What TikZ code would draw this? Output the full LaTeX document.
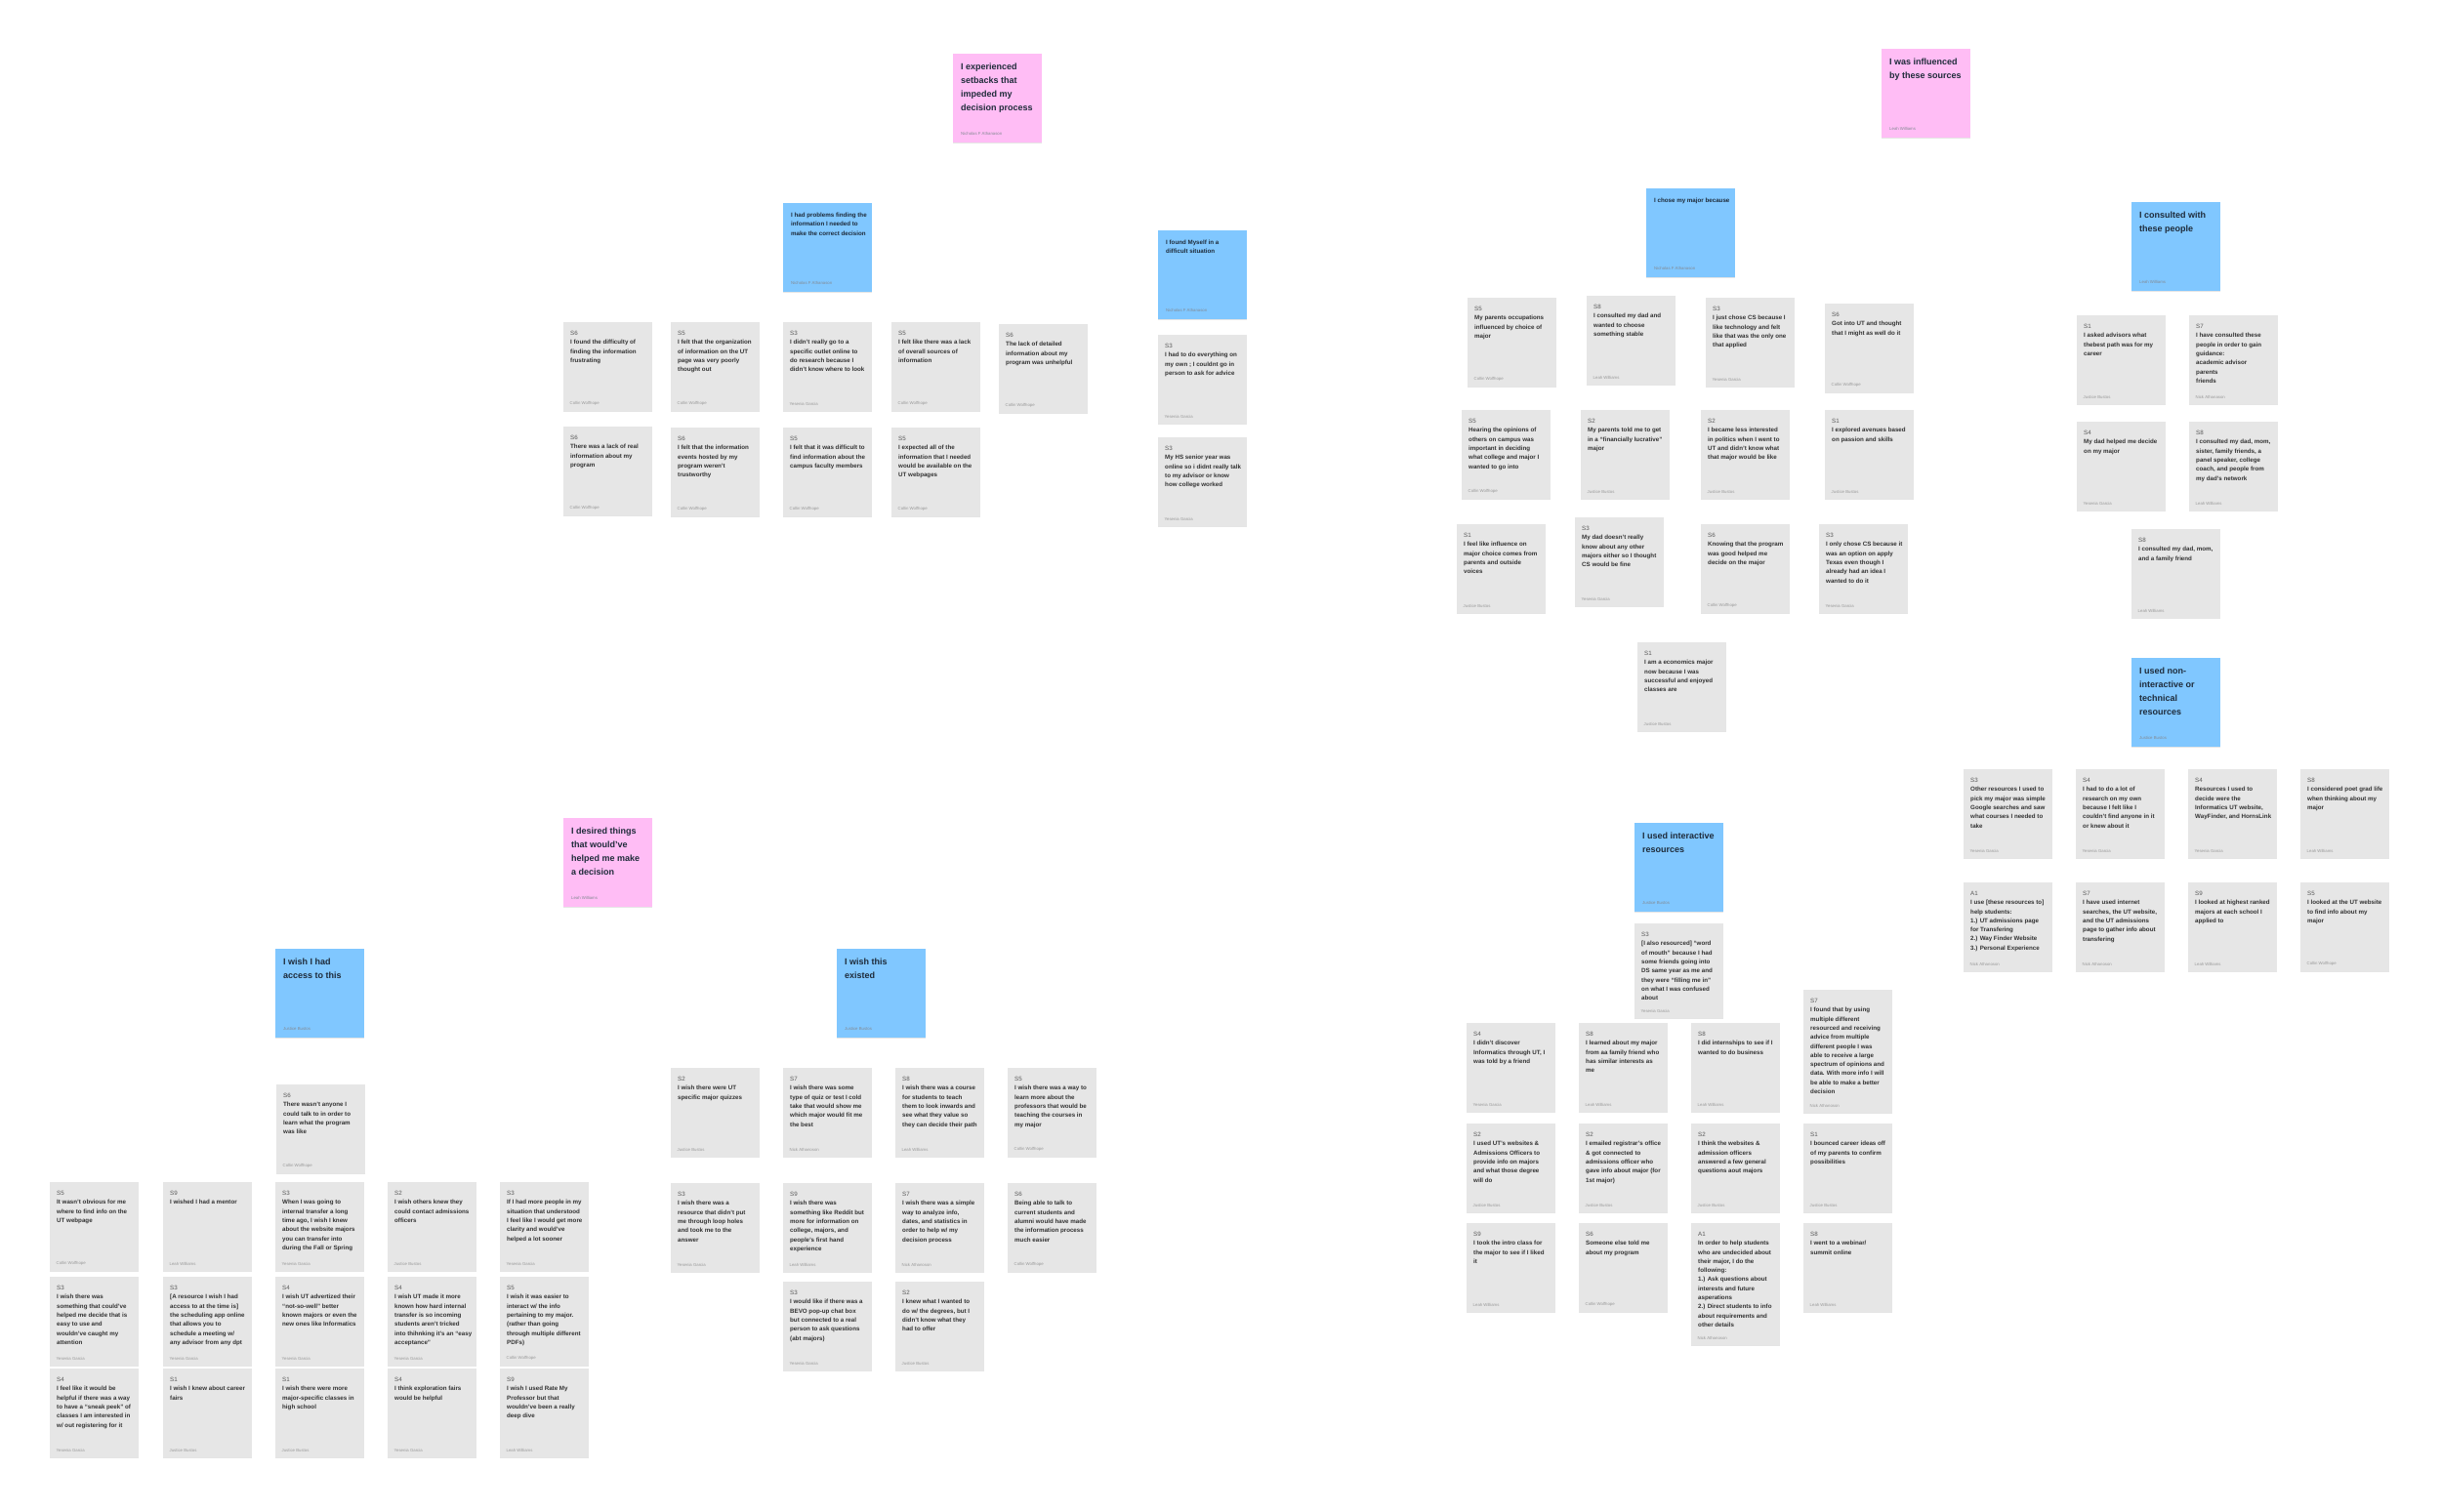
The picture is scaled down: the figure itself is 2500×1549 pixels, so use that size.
\documentclass[tikz,border=0pt]{standalone}
\usepackage{fontspec}
\setmainfont{Liberation Sans}
\usetikzlibrary{shadows}
\definecolor{notegray}{HTML}{E6E6E6}
\definecolor{stickyblue}{HTML}{80C7FF}
\definecolor{stickypink}{HTML}{FFBDF5}
\definecolor{inkgray}{HTML}{333333}
\definecolor{codegray}{HTML}{5A5A5A}
\definecolor{inknavy}{HTML}{1E2B3A}
\tikzset{
	note/.style = {anchor=north west, fill=notegray, minimum width=91pt, inner sep=0pt, drop shadow={shadow xshift=0pt, shadow yshift=-1.2pt, opacity=0.2}},
	notetext/.style = {anchor=north west, inner sep=0pt, align=left, text=inkgray, font=\fontsize{6.2}{9.3}\selectfont\bfseries},
	writer/.style = {anchor=south west, inner sep=0pt, text=black!40, font=\fontsize{4.3}{5}\selectfont},
	cluster/.style = {note, fill=stickyblue, minimum height=91pt},
	theme/.style = {note, fill=stickypink, minimum height=91pt},
	headline/.style = {notetext, text=inknavy, font=\fontsize{9}{13.8}\selectfont\bfseries},
	subline/.style = {notetext, text=inknavy},
	topicby/.style = {writer, text=inknavy!55}
}
\newcommand{\sticky}[6][91]{%
	\node[note, minimum height=#1pt] (#2) at (#3) {};
	\node[notetext] (#2-txt) at ([shift={(7pt,-9pt)}]#2.north west) {{\mdseries\color{codegray}#4}\\{}#5};
	\node[writer] (#2-by) at ([shift={(6.5pt,6pt)}]#2.south west) {#6};
}
\newcommand{\topic}[6]{%
	\node[#1] (#3) at (#4) {};
	\node[#2] (#3-txt) at ([shift={(8pt,-10pt)}]#3.north west) {#5};
	\node[topicby] (#3-by) at ([shift={(8pt,8pt)}]#3.south west) {#6};
}

\begin{document}
\begin{tikzpicture}[x=1pt, y=-1pt]
	\fill[white] (0,0) rectangle (2500,1549);
	\useasboundingbox (0,0) rectangle (2500,1549);

	% setbacks
	\topic{theme}{headline}{setback}{976,55}{I experienced\\ setbacks that\\ impeded my\\ decision process}{Nicholas F Athanason}
	\topic{cluster}{subline}{finding}{802,208}{I had problems finding the\\ information I needed to\\ make the correct decision}{Nicholas F Athanason}
	\sticky{fd1}{577,330}{S6}{I found the difficulty of\\ finding the information\\ frustrating}{Collin Wolfhope}
	\sticky{fd2}{687,330}{S5}{I felt that the organization\\ of information on the UT\\ page was very poorly\\ thought out}{Collin Wolfhope}
	\sticky{fd3}{802,330}{S3}{I didn't really go to a\\ specific outlet online to\\ do research because I\\ didn't know where to look}{Yesenia Garcia}
	\sticky{fd4}{913,330}{S5}{I felt like there was a lack\\ of overall sources of\\ information}{Collin Wolfhope}
	\sticky{fd5}{1023,332}{S6}{The lack of detailed\\ information about my\\ program was unhelpful}{Collin Wolfhope}
	\sticky{fd6}{577,437}{S6}{There was a lack of real\\ information about my\\ program}{Collin Wolfhope}
	\sticky{fd7}{687,438}{S6}{I felt that the information\\ events hosted by my\\ program weren't\\ trustworthy}{Collin Wolfhope}
	\sticky{fd8}{802,438}{S5}{I felt that it was difficult to\\ find information about the\\ campus faculty members}{Collin Wolfhope}
	\sticky{fd9}{913,438}{S5}{I expected all of the\\ information that I needed\\ would be available on the\\ UT webpages}{Collin Wolfhope}
	\topic{cluster}{subline}{alone}{1186,236}{I found Myself in a\\ difficult situation}{Nicholas F Athanason}
	\sticky{al1}{1186,343}{S3}{I had to do everything on\\ my own ; I couldnt go in\\ person to ask for advice}{Yesenia Garcia}
	\sticky{al2}{1186,448}{S3}{My HS senior year was\\ online so i didnt really talk\\ to my advisor or know\\ how college worked}{Yesenia Garcia}

	% influences
	\topic{theme}{headline}{influence}{1927,50}{I was influenced\\ by these sources}{Leah Williams}
	\topic{cluster}{subline}{because}{1686,193}{I chose my major because}{Nicholas F Athanason}
	\sticky{bc1}{1503,305}{S5}{My parents occupations\\ influenced by choice of\\ major}{Collin Wolfhope}
	\sticky{bc2}{1625,303}{S8}{I consulted my dad and\\ wanted to choose\\ something stable}{Leah Williams}
	\sticky{bc3}{1747,305}{S3}{I just chose CS because I\\ like technology and felt\\ like that was the only one\\ that applied}{Yesenia Garcia}
	\sticky{bc4}{1869,311}{S6}{Got into UT and thought\\ that I might as well do it}{Collin Wolfhope}
	\sticky{bc5}{1497,420}{S5}{Hearing the opinions of\\ others on campus was\\ important in deciding\\ what college and major I\\ wanted to go into}{Collin Wolfhope}
	\sticky{bc6}{1619,420}{S2}{My parents told me to get\\ in a “financially lucrative”\\ major}{Justice Bustos}
	\sticky{bc7}{1742,420}{S2}{I became less interested\\ in politics when I went to\\ UT and didn't know what\\ that major would be like}{Justice Bustos}
	\sticky{bc8}{1869,420}{S1}{I explored avenues based\\ on passion and skills}{Justice Bustos}
	\sticky{bc9}{1492,537}{S1}{I feel like influence on\\ major choice comes from\\ parents and outside\\ voices}{Justice Bustos}
	\sticky{bc10}{1613,530}{S3}{My dad doesn't really\\ know about any other\\ majors either so I thought\\ CS would be fine}{Yesenia Garcia}
	\sticky{bc11}{1742,537}{S6}{Knowing that the program\\ was good helped me\\ decide on the major}{Collin Wolfhope}
	\sticky{bc12}{1863,537}{S3}{I only chose CS because it\\ was an option on apply\\ Texas even though I\\ already had an idea I\\ wanted to do it}{Yesenia Garcia}
	\sticky{bc13}{1677,658}{S1}{I am a economics major\\ now because I was\\ successful and enjoyed\\ classes are}{Justice Bustos}

	\topic{cluster}{headline}{people}{2183,207}{I consulted with\\ these people}{Leah Williams}
	\sticky{pp1}{2127,323}{S1}{I asked advisors what\\ thebest path was for my\\ career}{Justice Bustos}
	\sticky{pp2}{2242,323}{S7}{I have consulted these\\ people in order to gain\\ guidance:\\ academic advisor\\ parents\\ friends}{Nick Athanason}
	\sticky{pp3}{2127,432}{S4}{My dad helped me decide\\ on my major}{Yesenia Garcia}
	\sticky{pp4}{2242,432}{S8}{I consulted my dad, mom,\\ sister, family friends, a\\ panel speaker, college\\ coach, and people from\\ my dad's network}{Leah Williams}
	\sticky{pp5}{2183,542}{S8}{I consulted my dad, mom,\\ and a family friend}{Leah Williams}

	\topic{cluster}{headline}{passive}{2183,674}{I used non-\\ interactive or\\ technical\\ resources}{Justice Bustos}
	\sticky{ps1}{2011,788}{S3}{Other resources I used to\\ pick my major was simple\\ Google searches and saw\\ what courses I needed to\\ take}{Yesenia Garcia}
	\sticky{ps2}{2126,788}{S4}{I had to do a lot of\\ research on my own\\ because I felt like I\\ couldn't find anyone in it\\ or knew about it}{Yesenia Garcia}
	\sticky{ps3}{2241,788}{S4}{Resources I used to\\ decide were the\\ Informatics UT website,\\ WayFinder, and HornsLink}{Yesenia Garcia}
	\sticky{ps4}{2356,788}{S8}{I considered poet grad life\\ when thinking about my\\ major}{Leah Williams}
	\sticky{ps5}{2011,904}{A1}{I use [these resources to]\\ help students:\\ 1.) UT admissions page\\ for Transfering\\ 2.) Way Finder Website\\ 3.) Personal Experience}{Nick Athanoson}
	\sticky{ps6}{2126,904}{S7}{I have used internet\\ searches, the UT website,\\ and the UT admissions\\ page to gather info about\\ transfering}{Nick Athanoson}
	\sticky{ps7}{2241,904}{S9}{I looked at highest ranked\\ majors at each school I\\ applied to}{Leah Williams}
	\sticky{ps8}{2356,904}{S5}{I looked at the UT website\\ to find info about my\\ major}{Collin Wolfhope}

	\topic{cluster}{headline}{active}{1674,843}{I used interactive\\ resources}{Justice Bustos}
	\sticky[97]{ac1}{1674,946}{S3}{[I also resourced] “word\\ of mouth” because I had\\ some friends going into\\ DS same year as me and\\ they were “filling me in”\\ on what I was confused\\ about}{Yesenia Garcia}
	\sticky{ac2}{1502,1048}{S4}{I didn't discover\\ Informatics through UT, I\\ was told by a friend}{Yesenia Garcia}
	\sticky{ac3}{1617,1048}{S8}{I learned about my major\\ from aa family friend who\\ has similar interests as\\ me}{Leah Williams}
	\sticky{ac4}{1732,1048}{S8}{I did internships to see if I\\ wanted to do business}{Leah Williams}
	\sticky[126]{ac5}{1847,1014}{S7}{I found that by using\\ multiple different\\ resourced and receiving\\ advice from multiple\\ different people I was\\ able to receive a large\\ spectrum of opinions and\\ data. With more info I will\\ be able to make a better\\ decision}{Nick Athanoson}
	\sticky{ac6}{1502,1151}{S2}{I used UT's websites \&\\ Admissions Officers to\\ provide info on majors\\ and what those degree\\ will do}{Justice Bustos}
	\sticky{ac7}{1617,1151}{S2}{I emailed registrar's office\\ \& got connected to\\ admissions officer who\\ gave info about major (for\\ 1st major)}{Justice Bustos}
	\sticky{ac8}{1732,1151}{S2}{I think the websites \&\\ admission officers\\ answered a few general\\ questions aout majors}{Justice Bustos}
	\sticky{ac9}{1847,1151}{S1}{I bounced career ideas off\\ of my parents to confirm\\ possibilities}{Justice Bustos}
	\sticky{ac10}{1502,1253}{S9}{I took the intro class for\\ the major to see if I liked\\ it}{Leah Williams}
	\sticky{ac11}{1617,1253}{S6}{Someone else told me\\ about my program}{Collin Wolfhope}
	\sticky[125]{ac12}{1732,1253}{A1}{In order to help students\\ who are undecided about\\ their major, I do the\\ following:\\ 1.) Ask questions about\\ interests and future\\ asperations\\ 2.) Direct students to info\\ about requirements and\\ other details}{Nick Athanoson}
	\sticky{ac13}{1847,1253}{S8}{I went to a webinar/\\ summit online}{Leah Williams}

	% desires
	\topic{theme}{headline}{desire}{577,838}{I desired things\\ that would've\\ helped me make\\ a decision}{Leah Williams}
	\topic{cluster}{headline}{access}{282,972}{I wish I had\\ access to this}{Justice Bustos}
	\sticky{wa0}{283,1111}{S6}{There wasn't anyone I\\ could talk to in order to\\ learn what the program\\ was like}{Collin Wolfhope}
	\sticky{wa1}{51,1211}{S5}{It wasn't obvious for me\\ where to find info on the\\ UT webpage}{Collin Wolfhope}
	\sticky{wa2}{167,1211}{S9}{I wished I had a mentor}{Leah Williams}
	\sticky{wa3}{282,1211}{S3}{When I was going to\\ internal transfer a long\\ time ago, I wish I knew\\ about the website majors\\ you can transfer into\\ during the Fall or Spring}{Yesenia Garcia}
	\sticky{wa4}{397,1211}{S2}{I wish others knew they\\ could contact admissions\\ officers}{Justice Bustos}
	\sticky{wa5}{512,1211}{S3}{If I had more people in my\\ situation that understood\\ I feel like I would get more\\ clarity and would've\\ helped a lot sooner}{Yesenia Garcia}
	\sticky{wa6}{51,1308}{S3}{I wish there was\\ something that could've\\ helped me decide that is\\ easy to use and\\ wouldn've caught my\\ attention}{Yesenia Garcia}
	\sticky{wa7}{167,1308}{S3}{[A resource I wish I had\\ access to at the time is]\\ the scheduling app online\\ that allows you to\\ schedule a meeting w/\\ any advisor from any dpt}{Yesenia Garcia}
	\sticky{wa8}{282,1308}{S4}{I wish UT advertized their\\ “not-so-well” better\\ known majors or even the\\ new ones like Informatics}{Yesenia Garcia}
	\sticky{wa9}{397,1308}{S4}{I wish UT made it more\\ known how hard internal\\ transfer is so incoming\\ students aren't tricked\\ into thihnking it's an “easy\\ acceptance”}{Yesenia Garcia}
	\sticky{wa10}{512,1308}{S5}{I wish it was easier to\\ interact w/ the info\\ pertaining to my major.\\ (rather than going\\ through multiple different\\ PDFs)}{Collin Wolfhope}
	\sticky{wa11}{51,1402}{S4}{I feel like it would be\\ helpful if there was a way\\ to have a “sneak peek” of\\ classes I am interested in\\ w/ out registering for it}{Yesenia Garcia}
	\sticky{wa12}{167,1402}{S1}{I wish I knew about career\\ fairs}{Justice Bustos}
	\sticky{wa13}{282,1402}{S1}{I wish there were more\\ major-specific classes in\\ high school}{Justice Bustos}
	\sticky{wa14}{397,1402}{S4}{I think exploration fairs\\ would be helpful}{Yesenia Garcia}
	\sticky{wa15}{512,1402}{S9}{I wish I used Rate My\\ Professor but that\\ wouldn've been a really\\ deep dive}{Leah Williams}

	\topic{cluster}{headline}{existed}{857,972}{I wish this\\ existed}{Justice Bustos}
	\sticky{we1}{687,1094}{S2}{I wish there were UT\\ specific major quizzes}{Justice Bustos}
	\sticky{we2}{802,1094}{S7}{I wish there was some\\ type of quiz or test I cold\\ take that would show me\\ which major would fit me\\ the best}{Nick Athanoson}
	\sticky{we3}{917,1094}{S8}{I wish there was a course\\ for students to teach\\ them to look inwards and\\ see what they value so\\ they can decide their path}{Leah Williams}
	\sticky{we4}{1032,1094}{S5}{I wish there was a way to\\ learn more about the\\ professors that would be\\ teaching the courses in\\ my major}{Collin Wolfhope}
	\sticky{we5}{687,1212}{S3}{I wish there was a\\ resource that didn't put\\ me through loop holes\\ and took me to the\\ answer}{Yesenia Garcia}
	\sticky{we6}{802,1212}{S9}{I wish there was\\ something like Reddit but\\ more for information on\\ college, majors, and\\ people's first hand\\ experience}{Leah Williams}
	\sticky{we7}{917,1212}{S7}{I wish there was a simple\\ way to analyze info,\\ dates, and statistics in\\ order to help w/ my\\ decision process}{Nick Athanoson}
	\sticky{we8}{1032,1212}{S6}{Being able to talk to\\ current students and\\ alumni would have made\\ the information process\\ much easier}{Collin Wolfhope}
	\sticky{we9}{802,1313}{S3}{I would like if there was a\\ BEVO pop-up chat box\\ but connected to a real\\ person to ask questions\\ (abt majors)}{Yesenia Garcia}
	\sticky{we10}{917,1313}{S2}{I knew what I wanted to\\ do w/ the degrees, but I\\ didn't know what they\\ had to offer}{Justice Bustos}
\end{tikzpicture}
\end{document}
